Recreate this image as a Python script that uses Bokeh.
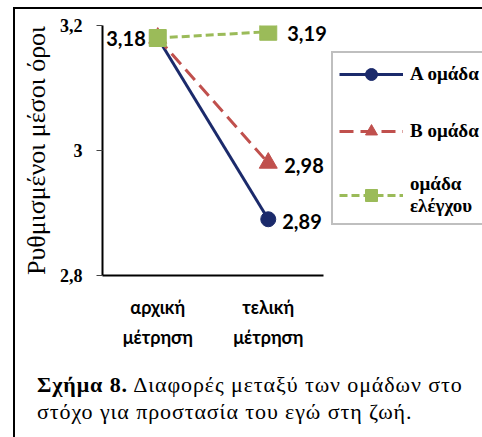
from bokeh.plotting import figure
from bokeh.layouts import column
from bokeh.models import (Legend, LegendItem, FixedTicker, Div,
                          ColumnDataSource, Range1d)
from bokeh.embed import file_html
from bokeh.resources import INLINE
from bokeh.core.properties import value

categories = ["αρχική\nμέτρηση", "τελική\nμέτρηση"]
group_a = [3.18, 2.89]
group_b = [3.18, 2.98]
group_control = [3.18, 3.19]
series_names = ["Α ομάδα", "Β ομάδα", "ομάδα\nελέγχου"]
y_ticks = [2.8, 3.0, 3.2]
y_tick_labels = ["2,8", "3", "3,2"]
y_title = "Ρυθμισμένοι μέσοι όροι"
caption_bold = "Σχήμα 8."
caption_rest1 = "Διαφορές μεταξύ των ομάδων στο"
caption_line2 = "στόχο για προστασία του εγώ στη ζωή."

NAVY = "#1B2A6B"
RED = "#C0504D"
GREEN = "#9BBB59"
SERIF = "Liberation Serif"

def fmt(v):
    return f"{v:.2f}".replace(".", ",")

# category slots: factor i is centred at i + 0.5
x_pos = [i + 0.5 for i in range(len(categories))]

FIG_W, FIG_H = 467, 356
LEFT, TOP, BOTTOM = 87, 16, 90
PLOT_W = 221  # width taken by the two category slots
frame_w = FIG_W - LEFT
x_end = len(categories) * frame_w / PLOT_W  # free room on the right for the legend

p = figure(width=FIG_W, height=FIG_H, x_range=Range1d(0, x_end),
           y_range=Range1d(2.8, 3.2), output_backend="svg", toolbar_location=None,
           min_border_left=LEFT, min_border_right=0, min_border_top=TOP,
           min_border_bottom=BOTTOM)
p.outline_line_color = None
p.xgrid.visible = False
p.ygrid.visible = False
p.background_fill_color = "white"
p.border_fill_color = "white"

# axes
p.yaxis.ticker = FixedTicker(ticks=y_ticks)
p.yaxis.major_label_overrides = {t: l for t, l in zip(y_ticks, y_tick_labels)}
p.yaxis.minor_tick_line_color = None
p.yaxis.major_tick_out = 6
p.yaxis.major_tick_in = 0
p.yaxis.major_tick_line_color = "#444444"
p.yaxis.major_tick_line_width = 1
p.yaxis.axis_line_width = 2
p.yaxis.axis_line_color = "black"
p.yaxis.major_label_text_font = SERIF
p.yaxis.major_label_text_font_style = "bold"
p.yaxis.major_label_text_font_size = "18px"
p.yaxis.major_label_text_color = "black"
p.yaxis.major_label_standoff = 14
p.yaxis.axis_label = y_title
p.yaxis.axis_label_text_font = SERIF
p.yaxis.axis_label_text_font_style = "normal"
p.yaxis.axis_label_text_font_size = "26px"
p.yaxis.axis_label_text_color = "black"
p.yaxis.axis_label_standoff = 6

p.xaxis.ticker = FixedTicker(ticks=x_pos)
p.xaxis.major_label_overrides = {x: c for x, c in zip(x_pos, categories)}
p.xaxis.bounds = (0, len(categories))
p.xaxis.major_tick_line_color = None
p.xaxis.minor_tick_line_color = None
p.xaxis.axis_line_width = 2
p.xaxis.axis_line_color = "black"
p.xaxis.major_label_text_font = "Lato"
p.xaxis.major_label_text_font_style = "bold"
p.xaxis.major_label_text_font_size = "18px"
p.xaxis.major_label_text_color = "black"
p.xaxis.major_label_text_line_height = 1.4
p.xaxis.major_label_standoff = 14

# series
la = p.line(x_pos, group_a, line_color=NAVY, line_width=3)
sa = p.scatter(x_pos, group_a, marker="circle", size=15, color=NAVY)
lb = p.line(x_pos, group_b, line_color=RED, line_width=3, line_dash="14 7")
sb = p.scatter(x_pos, group_b, marker="triangle", size=18, color=RED)
lc = p.line(x_pos, group_control, line_color=GREEN, line_width=3, line_dash="8 4")
sc = p.scatter(x_pos, group_control, marker="square", size=17, color=GREEN)

# data labels
right_src = ColumnDataSource(dict(
    x=[x_pos[1]] * 3,
    y=[group_a[1], group_b[1], group_control[1]],
    t=[fmt(group_a[1]), fmt(group_b[1]), fmt(group_control[1])],
    dx=[14, 16, 19],
    dy=[2, 2, 2],
))
p.text(x="x", y="y", text="t", source=right_src, x_offset="dx", y_offset="dy",
       text_align="left", text_baseline="middle", text_font=value("Lato"),
       text_font_style="bold", text_font_size="20px", text_color="black")
left_src = ColumnDataSource(dict(x=[x_pos[0]], y=[group_control[0]],
                                 t=[fmt(group_control[0])]))
p.text(x="x", y="y", text="t", source=left_src, x_offset=-12, y_offset=0,
       text_align="right", text_baseline="middle", text_font=value("Lato"),
       text_font_style="bold", text_font_size="20px", text_color="black")

legend = Legend(items=[
    LegendItem(label=series_names[0], renderers=[la, sa]),
    LegendItem(label=series_names[1], renderers=[lb, sb]),
    LegendItem(label=series_names[2], renderers=[lc, sc]),
], location=(229, 50))
legend.border_line_color = "#808080"
legend.border_line_width = 2
legend.background_fill_color = "white"
legend.background_fill_alpha = 1
legend.label_text_font = SERIF
legend.label_text_font_style = "bold"
legend.label_text_font_size = "19px"
legend.label_text_line_height = 1.0
legend.label_text_color = "black"
legend.glyph_width = 64
legend.glyph_height = 30
legend.label_standoff = 7
legend.spacing = 27
legend.padding = 6
legend.margin = 0
p.add_layout(legend, "center")

caption = Div(
    text=(f"<b>{caption_bold}</b> {caption_rest1}<br>{caption_line2}"),
    width=FIG_W, height=70,
    styles={"font-family": "'Liberation Serif', serif", "font-size": "22px",
            "letter-spacing": "0.9px",
            "line-height": "27px", "color": "black", "white-space": "nowrap",
            "padding-left": "17px", "padding-top": "1px"},
)

layout = column(p, caption, spacing=0, margin=(7, 0, 0, 13),
                styles={"border-left": "2px solid black",
                        "border-top": "2px solid black"})

open("out.html", "w").write(file_html(layout, INLINE))
